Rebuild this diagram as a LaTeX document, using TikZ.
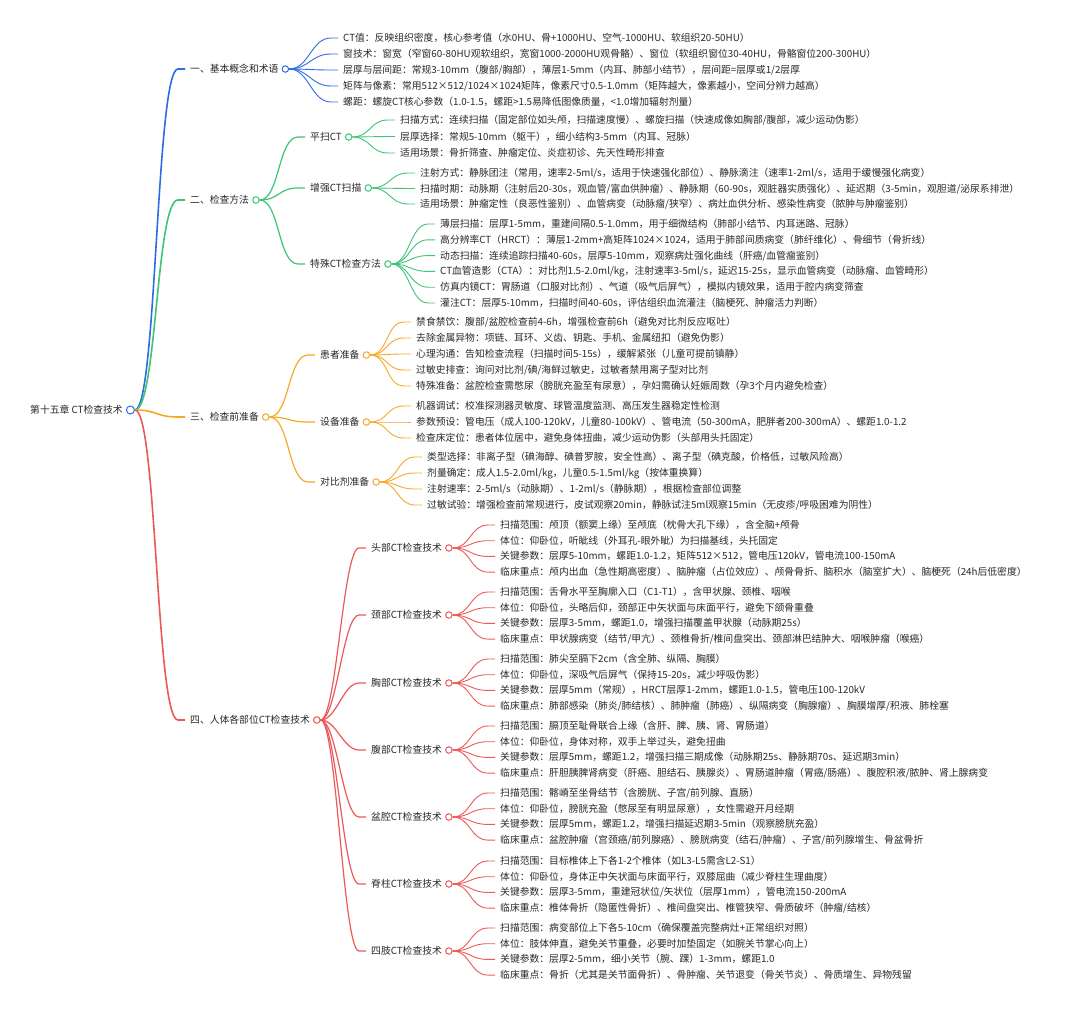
\documentclass[tikz,border=0pt]{standalone}
\usepackage{fontspec}
\setmainfont{Noto Sans CJK SC}
\definecolor{mmblue}{RGB}{45,108,228}
\definecolor{mmgreen}{RGB}{62,196,118}
\definecolor{mmorange}{RGB}{246,168,40}
\definecolor{mmred}{RGB}{236,88,88}
\definecolor{mmtext}{RGB}{40,40,40}
\usetikzlibrary{positioning}

\begin{document}
\begin{tikzpicture}[x=1pt, y=-1pt,
  every node/.style={font=\fontsize{9.8}{12}\selectfont, text=mmtext, inner sep=0pt, anchor=west, text height=0.85em, text depth=0.15em},
  dot/.style={circle, draw=#1, fill=white, line width=1pt, minimum size=6.5pt, text height=0pt, text depth=0pt},
  trunk/.style={draw=#1, line width=1.6pt},
  bough/.style={draw=#1, line width=1.2pt},
  twig/.style={draw=#1, line width=0.9pt}]
\useasboundingbox (0,0) rectangle (1080,1012);
% Root
\node (root) at (30,410) {第十五章 CT检查技术};
\node[dot=mmblue, minimum size=8pt, right=3pt of root] (rootdot) {};
% Sections
\node (sec1) at (190,69) {一、基本概念和术语};
\node[dot=mmblue, right=3pt of sec1] (sec1dot) {};
\node (sec2) at (190,200) {二、检查方法};
\node[dot=mmgreen, right=3pt of sec2] (sec2dot) {};
\node (sec3) at (190,417) {三、检查前准备};
\node[dot=mmorange, right=3pt of sec3] (sec3dot) {};
\node (sec4) at (190,720) {四、人体各部位CT检查技术};
\node[dot=mmred, right=3pt of sec4] (sec4dot) {};
\foreach \s/\c in {sec1/mmblue, sec2/mmgreen, sec3/mmorange, sec4/mmred}
  \draw[trunk=\c] (rootdot.east) .. controls +(22,0) and +(-22,0) .. ([xshift=-12pt]\s.west) -- ([xshift=-5pt]\s.west);

% 一、基本概念和术语
\foreach \t [count=\i] in {{CT值：反映组织密度，核心参考值（水0HU、骨+1000HU、空气-1000HU、软组织20-50HU）},
  {窗技术：窗宽（窄窗60-80HU观软组织，宽窗1000-2000HU观骨骼）、窗位（软组织窗位30-40HU，骨骼窗位200-300HU）},
  {层厚与层间距：常规3-10mm（腹部/胸部），薄层1-5mm（内耳、肺部小结节），层间距=层厚或1/2层厚},
  {矩阵与像素：常用512×512/1024×1024矩阵，像素尺寸0.5-1.0mm（矩阵越大，像素越小，空间分辨力越高）},
  {螺距：螺旋CT核心参数（1.0-1.5，螺距>1.5易降低图像质量，<1.0增加辐射剂量）}} {
  \node (term\i) at (343,{38+16*(\i-1)}) {\t};
  \draw[twig=mmblue] (sec1dot.east) .. controls +(20,0) and +(-20,0) .. ([xshift=-12pt]term\i.west) -- ([xshift=-5pt]term\i.west);
}

% 二、检查方法
\node (plain) at (310,137) {平扫CT};
\node[dot=mmgreen, right=3pt of plain] (plaindot) {};
\node (enh) at (310,188) {增强CT扫描};
\node[dot=mmgreen, right=3pt of enh] (enhdot) {};
\node (spec) at (310,264) {特殊CT检查方法};
\node[dot=mmgreen, right=3pt of spec] (specdot) {};
\foreach \s in {plain, enh, spec}
  \draw[bough=mmgreen] (sec2dot.east) .. controls +(20,0) and +(-20,0) .. ([xshift=-12pt]\s.west) -- ([xshift=-5pt]\s.west);
\foreach \t [count=\i] in {{扫描方式：连续扫描（固定部位如头颅，扫描速度慢）、螺旋扫描（快速成像如胸部/腹部，减少运动伪影）},
  {层厚选择：常规5-10mm（躯干），细小结构3-5mm（内耳、冠脉）},
  {适用场景：骨折筛查、肿瘤定位、炎症初诊、先天性畸形排查}} {
  \node (plain\i) at (400,{120+16.5*(\i-1)}) {\t};
  \draw[twig=mmgreen] (plaindot.east) .. controls +(18,0) and +(-18,0) .. ([xshift=-12pt]plain\i.west) -- ([xshift=-5pt]plain\i.west);
}
\foreach \t [count=\i] in {{注射方式：静脉团注（常用，速率2-5ml/s，适用于快速强化部位）、静脉滴注（速率1-2ml/s，适用于缓慢强化病变）},
  {扫描时期：动脉期（注射后20-30s，观血管/富血供肿瘤）、静脉期（60-90s，观脏器实质强化）、延迟期（3-5min，观胆道/泌尿系排泄）},
  {适用场景：肿瘤定性（良恶性鉴别）、血管病变（动脉瘤/狭窄）、病灶血供分析、感染性病变（脓肿与肿瘤鉴别）}} {
  \node (enh\i) at (420,{173+15.5*(\i-1)}) {\t};
  \draw[twig=mmgreen] (enhdot.east) .. controls +(18,0) and +(-18,0) .. ([xshift=-12pt]enh\i.west) -- ([xshift=-5pt]enh\i.west);
}
\foreach \t [count=\i] in {{薄层扫描：层厚1-5mm，重建间隔0.5-1.0mm，用于细微结构（肺部小结节、内耳迷路、冠脉）},
  {高分辨率CT（HRCT）：薄层1-2mm+高矩阵1024×1024，适用于肺部间质病变（肺纤维化）、骨细节（骨折线）},
  {动态扫描：连续追踪扫描40-60s，层厚5-10mm，观察病灶强化曲线（肝癌/血管瘤鉴别）},
  {CT血管造影（CTA）：对比剂1.5-2.0ml/kg，注射速率3-5ml/s，延迟15-25s，显示血管病变（动脉瘤、血管畸形）},
  {仿真内镜CT：胃肠道（口服对比剂）、气道（吸气后屏气），模拟内镜效果，适用于腔内病变筛查},
  {灌注CT：层厚5-10mm，扫描时间40-60s，评估组织血流灌注（脑梗死、肿瘤活力判断）}} {
  \node (spec\i) at (440,{224+15.8*(\i-1)}) {\t};
  \draw[twig=mmgreen] (specdot.east) .. controls +(18,0) and +(-18,0) .. ([xshift=-12pt]spec\i.west) -- ([xshift=-5pt]spec\i.west);
}

% 三、检查前准备
\node (pat) at (320,355) {患者准备};
\node[dot=mmorange, right=3pt of pat] (patdot) {};
\node (dev) at (320,422) {设备准备};
\node[dot=mmorange, right=3pt of dev] (devdot) {};
\node (agent) at (320,482) {对比剂准备};
\node[dot=mmorange, right=3pt of agent] (agentdot) {};
\foreach \s in {pat, dev, agent}
  \draw[bough=mmorange] (sec3dot.east) .. controls +(20,0) and +(-20,0) .. ([xshift=-12pt]\s.west) -- ([xshift=-5pt]\s.west);
\foreach \t [count=\i] in {{禁食禁饮：腹部/盆腔检查前4-6h，增强检查前6h（避免对比剂反应呕吐）},
  {去除金属异物：项链、耳环、义齿、钥匙、手机、金属纽扣（避免伪影）},
  {心理沟通：告知检查流程（扫描时间5-15s），缓解紧张（儿童可提前镇静）},
  {过敏史排查：询问对比剂/碘/海鲜过敏史，过敏者禁用离子型对比剂},
  {特殊准备：盆腔检查需憋尿（膀胱充盈至有尿意），孕妇需确认妊娠周数（孕3个月内避免检查）}} {
  \node (pat\i) at (416,{322+16*(\i-1)}) {\t};
  \draw[twig=mmorange] (patdot.east) .. controls +(18,0) and +(-18,0) .. ([xshift=-12pt]pat\i.west) -- ([xshift=-5pt]pat\i.west);
}
\foreach \t [count=\i] in {{机器调试：校准探测器灵敏度、球管温度监测、高压发生器稳定性检测},
  {参数预设：管电压（成人100-120kV，儿童80-100kV）、管电流（50-300mA，肥胖者200-300mA）、螺距1.0-1.2},
  {检查床定位：患者体位居中，避免身体扭曲，减少运动伪影（头部用头托固定）}} {
  \node (dev\i) at (416,{406+16*(\i-1)}) {\t};
  \draw[twig=mmorange] (devdot.east) .. controls +(18,0) and +(-18,0) .. ([xshift=-12pt]dev\i.west) -- ([xshift=-5pt]dev\i.west);
}
\foreach \t [count=\i] in {{类型选择：非离子型（碘海醇、碘普罗胺，安全性高）、离子型（碘克酸，价格低，过敏风险高）},
  {剂量确定：成人1.5-2.0ml/kg，儿童0.5-1.5ml/kg（按体重换算）},
  {注射速率：2-5ml/s（动脉期）、1-2ml/s（静脉期），根据检查部位调整},
  {过敏试验：增强检查前常规进行，皮试观察20min，静脉试注5ml观察15min（无皮疹/呼吸困难为阴性）}} {
  \node (agent\i) at (427,{457+16*(\i-1)}) {\t};
  \draw[twig=mmorange] (agentdot.east) .. controls +(18,0) and +(-18,0) .. ([xshift=-12pt]agent\i.west) -- ([xshift=-5pt]agent\i.west);
}

% 四、人体各部位CT检查技术
\node (head) at (371,548) {头部CT检查技术};
\node[dot=mmred, right=3pt of head] (headdot) {};
\node (neck) at (371,615) {颈部CT检查技术};
\node[dot=mmred, right=3pt of neck] (neckdot) {};
\node (chest) at (371,683) {胸部CT检查技术};
\node[dot=mmred, right=3pt of chest] (chestdot) {};
\node (abdo) at (371,750) {腹部CT检查技术};
\node[dot=mmred, right=3pt of abdo] (abdodot) {};
\node (pelvis) at (371,817) {盆腔CT检查技术};
\node[dot=mmred, right=3pt of pelvis] (pelvisdot) {};
\node (spine) at (371,884) {脊柱CT检查技术};
\node[dot=mmred, right=3pt of spine] (spinedot) {};
\node (limb) at (371,951) {四肢CT检查技术};
\node[dot=mmred, right=3pt of limb] (limbdot) {};
\foreach \s in {head, neck, chest, abdo, pelvis, spine, limb}
  \draw[bough=mmred] (sec4dot.east) .. controls +(16,0) and +(-16,0) .. ([xshift=-12pt]\s.west) -- ([xshift=-5pt]\s.west);

\foreach \t [count=\i] in {{扫描范围：颅顶（额窦上缘）至颅底（枕骨大孔下缘），含全脑+颅骨},
  {体位：仰卧位，听眦线（外耳孔-眼外眦）为扫描基线，头托固定},
  {关键参数：层厚5-10mm，螺距1.0-1.2，矩阵512×512，管电压120kV，管电流100-150mA},
  {临床重点：颅内出血（急性期高密度）、脑肿瘤（占位效应）、颅骨骨折、脑积水（脑室扩大）、脑梗死（24h后低密度）}} {
  \node (head\i) at (500,{525+15.7*(\i-1)}) {\t};
  \draw[twig=mmred] (headdot.east) .. controls +(18,0) and +(-18,0) .. ([xshift=-12pt]head\i.west) -- ([xshift=-5pt]head\i.west);
}
\foreach \t [count=\i] in {{扫描范围：舌骨水平至胸廓入口（C1-T1），含甲状腺、颈椎、咽喉},
  {体位：仰卧位，头略后仰，颈部正中矢状面与床面平行，避免下颌骨重叠},
  {关键参数：层厚3-5mm，螺距1.0，增强扫描覆盖甲状腺（动脉期25s）},
  {临床重点：甲状腺病变（结节/甲亢）、颈椎骨折/椎间盘突出、颈部淋巴结肿大、咽喉肿瘤（喉癌）}} {
  \node (neck\i) at (500,{592+15.7*(\i-1)}) {\t};
  \draw[twig=mmred] (neckdot.east) .. controls +(18,0) and +(-18,0) .. ([xshift=-12pt]neck\i.west) -- ([xshift=-5pt]neck\i.west);
}
\foreach \t [count=\i] in {{扫描范围：肺尖至膈下2cm（含全肺、纵隔、胸膜）},
  {体位：仰卧位，深吸气后屏气（保持15-20s，减少呼吸伪影）},
  {关键参数：层厚5mm（常规），HRCT层厚1-2mm，螺距1.0-1.5，管电压100-120kV},
  {临床重点：肺部感染（肺炎/肺结核）、肺肿瘤（肺癌）、纵隔病变（胸腺瘤）、胸膜增厚/积液、肺栓塞}} {
  \node (chest\i) at (500,{659+15.7*(\i-1)}) {\t};
  \draw[twig=mmred] (chestdot.east) .. controls +(18,0) and +(-18,0) .. ([xshift=-12pt]chest\i.west) -- ([xshift=-5pt]chest\i.west);
}
\foreach \t [count=\i] in {{扫描范围：膈顶至耻骨联合上缘（含肝、脾、胰、肾、胃肠道）},
  {体位：仰卧位，身体对称，双手上举过头，避免扭曲},
  {关键参数：层厚5mm，螺距1.2，增强扫描三期成像（动脉期25s、静脉期70s、延迟期3min）},
  {临床重点：肝胆胰脾肾病变（肝癌、胆结石、胰腺炎）、胃肠道肿瘤（胃癌/肠癌）、腹腔积液/脓肿、肾上腺病变}} {
  \node (abdo\i) at (500,{726+15.7*(\i-1)}) {\t};
  \draw[twig=mmred] (abdodot.east) .. controls +(18,0) and +(-18,0) .. ([xshift=-12pt]abdo\i.west) -- ([xshift=-5pt]abdo\i.west);
}
\foreach \t [count=\i] in {{扫描范围：髂嵴至坐骨结节（含膀胱、子宫/前列腺、直肠）},
  {体位：仰卧位，膀胱充盈（憋尿至有明显尿意），女性需避开月经期},
  {关键参数：层厚5mm，螺距1.2，增强扫描延迟期3-5min（观察膀胱充盈）},
  {临床重点：盆腔肿瘤（宫颈癌/前列腺癌）、膀胱病变（结石/肿瘤）、子宫/前列腺增生、骨盆骨折}} {
  \node (pelvis\i) at (500,{793+15.7*(\i-1)}) {\t};
  \draw[twig=mmred] (pelvisdot.east) .. controls +(18,0) and +(-18,0) .. ([xshift=-12pt]pelvis\i.west) -- ([xshift=-5pt]pelvis\i.west);
}
\foreach \t [count=\i] in {{扫描范围：目标椎体上下各1-2个椎体（如L3-L5需含L2-S1）},
  {体位：仰卧位，身体正中矢状面与床面平行，双膝屈曲（减少脊柱生理曲度）},
  {关键参数：层厚3-5mm，重建冠状位/矢状位（层厚1mm），管电流150-200mA},
  {临床重点：椎体骨折（隐匿性骨折）、椎间盘突出、椎管狭窄、骨质破坏（肿瘤/结核）}} {
  \node (spine\i) at (500,{861+15.7*(\i-1)}) {\t};
  \draw[twig=mmred] (spinedot.east) .. controls +(18,0) and +(-18,0) .. ([xshift=-12pt]spine\i.west) -- ([xshift=-5pt]spine\i.west);
}
\foreach \t [count=\i] in {{扫描范围：病变部位上下各5-10cm（确保覆盖完整病灶+正常组织对照）},
  {体位：肢体伸直，避免关节重叠，必要时加垫固定（如腕关节掌心向上）},
  {关键参数：层厚2-5mm，细小关节（腕、踝）1-3mm，螺距1.0},
  {临床重点：骨折（尤其是关节面骨折）、骨肿瘤、关节退变（骨关节炎）、骨质增生、异物残留}} {
  \node (limb\i) at (500,{928+15.7*(\i-1)}) {\t};
  \draw[twig=mmred] (limbdot.east) .. controls +(18,0) and +(-18,0) .. ([xshift=-12pt]limb\i.west) -- ([xshift=-5pt]limb\i.west);
}
\end{tikzpicture}
\end{document}
